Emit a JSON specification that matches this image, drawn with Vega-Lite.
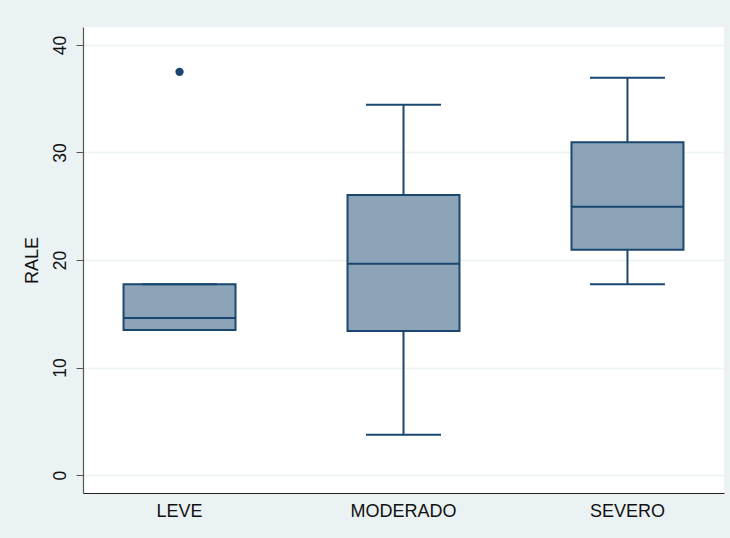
{
  "$schema": "https://vega.github.io/schema/vega-lite/v6.json",
  "width": 641,
  "height": 466,
  "autosize": {"type": "none"},
  "padding": {"left": 83, "top": 27, "right": 6, "bottom": 45},
  "background": "#EAF2F3",
  "config": {
    "view": {"fill": "white", "stroke": null},
    "font": "Liberation Sans"
  },
  "datasets": {
    "boxes": [
      {"group": "LEVE", "lower": 13.5, "q1": 13.5, "median": 14.6, "q3": 17.75, "upper": 17.75},
      {"group": "MODERADO", "lower": 3.75, "q1": 13.4, "median": 19.65, "q3": 26.05, "upper": 34.45},
      {"group": "SEVERO", "lower": 17.75, "q1": 20.95, "median": 24.95, "q3": 30.95, "upper": 36.95}
    ],
    "outliers": [
      {"group": "LEVE", "RALE": 37.5}
    ]
  },
  "encoding": {
    "x": {
      "field": "group",
      "type": "nominal",
      "sort": ["LEVE", "MODERADO", "SEVERO"],
      "scale": {"domain": ["LEVE", "MODERADO", "SEVERO"], "paddingInner": 0.5, "paddingOuter": 0.181},
      "axis": {
        "title": null,
        "labelAngle": 0,
        "labelFontSize": 18,
        "labelColor": "#111111",
        "labelPadding": 9,
        "ticks": false,
        "grid": false,
        "domainColor": "#222222",
        "domainWidth": 1.2
      }
    }
  },
  "layer": [
    {
      "data": {"name": "boxes"},
      "mark": {"type": "rule", "color": "#1A476F", "strokeWidth": 2},
      "encoding": {
        "y": {
          "field": "lower",
          "type": "quantitative",
          "scale": {"domain": [-1.67, 41.67], "nice": false, "zero": false},
          "axis": {
            "title": "RALE",
            "values": [0, 10, 20, 30, 40],
            "grid": true,
            "gridColor": "#EAF2F3",
            "gridWidth": 1.5,
            "tickColor": "#555555",
            "tickSize": 7,
            "domainColor": "#555555",
            "domainWidth": 1.2,
            "labelAngle": 270,
            "labelAlign": "center",
            "labelBaseline": "bottom",
            "labelPadding": 7,
            "labelFontSize": 17.5,
            "labelColor": "#111111",
            "titleFontSize": 18,
            "titleFontWeight": "normal",
            "titleColor": "#111111",
            "titlePadding": 10
          }
        },
        "y2": {"field": "upper"}
      }
    },
    {
      "data": {"name": "boxes"},
      "mark": {"type": "bar", "fill": "#8DA4B8", "stroke": "#1A476F", "strokeWidth": 2},
      "encoding": {
        "y": {"field": "q1", "type": "quantitative"},
        "y2": {"field": "q3"}
      }
    },
    {
      "data": {"name": "boxes"},
      "mark": {"type": "tick", "color": "#1A476F", "size": 112, "thickness": 2, "opacity": 1},
      "encoding": {
        "y": {"field": "median", "type": "quantitative"}
      }
    },
    {
      "data": {"name": "boxes"},
      "mark": {"type": "tick", "color": "#1A476F", "size": 75, "thickness": 2, "opacity": 1},
      "encoding": {
        "y": {"field": "lower", "type": "quantitative"}
      }
    },
    {
      "data": {"name": "boxes"},
      "mark": {"type": "tick", "color": "#1A476F", "size": 75, "thickness": 2, "opacity": 1},
      "encoding": {
        "y": {"field": "upper", "type": "quantitative"}
      }
    },
    {
      "data": {"name": "outliers"},
      "mark": {"type": "circle", "color": "#1A476F", "size": 70, "opacity": 1},
      "encoding": {
        "y": {"field": "RALE", "type": "quantitative"}
      }
    }
  ]
}
